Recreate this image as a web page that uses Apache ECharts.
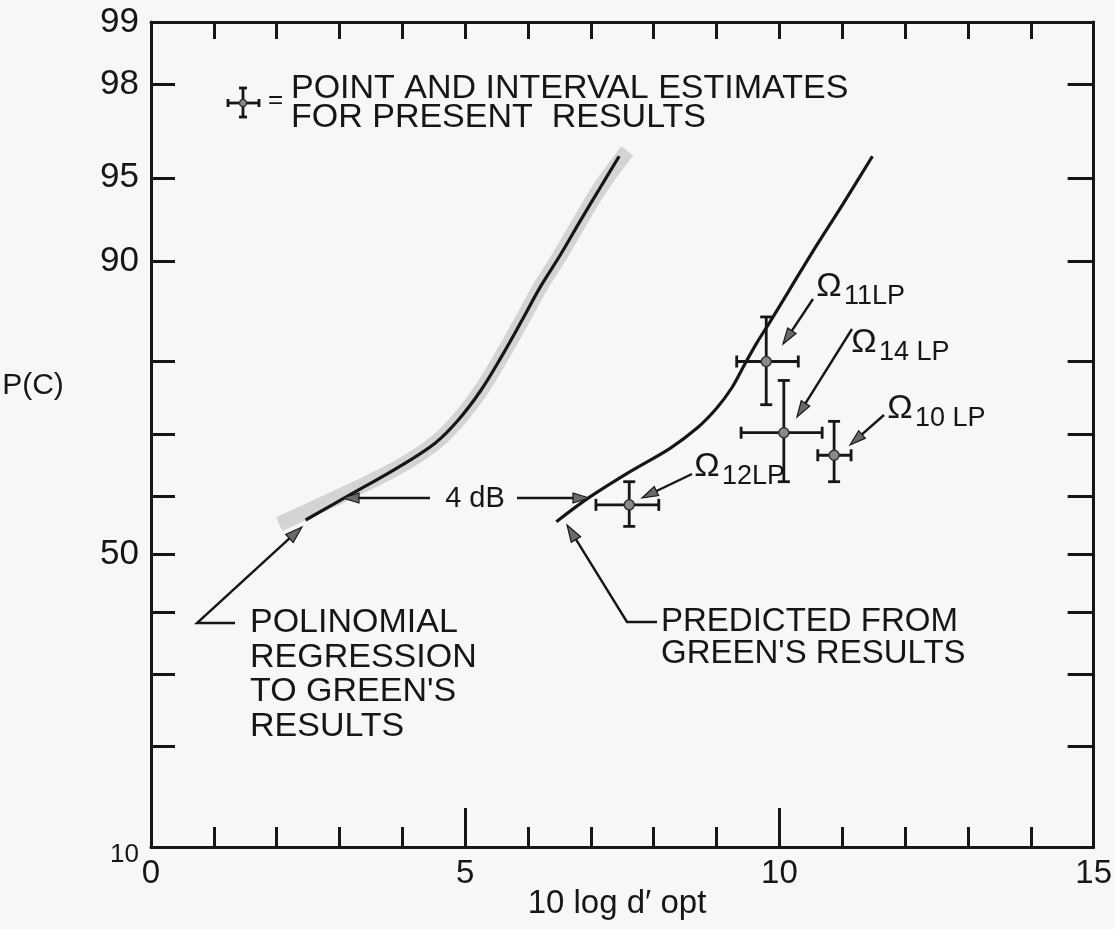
<!DOCTYPE html>
<html>
<head>
<meta charset="utf-8">
<script src="https://cdn.jsdelivr.net/npm/echarts@6/dist/echarts.min.js"></script>
<style>
  html, body { margin: 0; padding: 0; background: #f7f7f5; }
  #chart { width: 1115px; height: 929px; }
</style>
</head>
<body>
<div id="chart"></div>
<script>
// ---- Axis ticks -------------------------------------------------------
const xTicks = [0, 1, 2, 3, 4, 5, 6, 7, 8, 9, 10, 11, 12, 13, 14, 15];
const xLabels = [0, 5, 10, 15];
const pTicks = [10, 20, 30, 40, 50, 60, 70, 80, 90, 95, 98, 99];
const pLabels = [10, 50, 90, 95, 98, 99];

// ---- Polynomial regression to Green's results (10 log d'opt, P(C) %) ----
const regX = [2.46, 3.10, 3.94, 4.52, 4.89, 5.25, 5.57, 5.89, 6.20, 6.52, 6.84, 7.14, 7.45];
const regP = [55.9, 59.8, 64.8, 68.6, 72.1, 76.3, 80.5, 84.5, 87.9, 90.5, 92.8, 94.5, 95.9];

// Shaded band around the regression curve
const bandX = [2.04, 3.15, 3.94, 4.52, 4.89, 5.25, 5.57, 5.89, 6.20, 6.52, 6.84, 7.14, 7.58];
const bandP = [55.2, 60.7, 64.8, 68.6, 72.1, 76.3, 80.5, 84.5, 87.9, 90.5, 92.8, 94.5, 96.1];

// ---- Predicted from Green's results ------------------------------------
const predX = [6.45, 6.95, 7.63, 8.26, 8.69, 9.00, 9.24, 9.45, 9.64, 9.85, 10.16, 10.53, 11.01, 11.48];
const predP = [55.6, 59.6, 64.1, 67.8, 70.9, 73.8, 76.6, 79.7, 82.2, 84.5, 87.6, 90.7, 93.7, 95.9];

// ---- Present results: point and interval estimates ---------------------
const condNames = ['11LP', '14 LP', '10 LP', '12LP'];
const condX   = [9.79, 10.07, 10.87, 7.61];
const condXLo = [9.32, 9.39, 10.61, 7.08];
const condXHi = [10.30, 10.68, 11.14, 8.08];
const condP   = [80.0, 70.2, 66.7, 58.5];
const condPLo = [74.3, 62.4, 62.4, 54.8];
const condPHi = [85.0, 77.6, 71.9, 62.4];

// Inverse of the standard normal CDF (Acklam's rational approximation)
function probit(p) {
  const a = [-39.69683028665376, 220.9460984245205, -275.9285104469687, 138.3577518672690, -30.66479806614716, 2.506628277459239];
  const b = [-54.47609879822406, 161.5858368580409, -155.6989798598866, 66.80131188771972, -13.28068155288572];
  const c = [-0.007784894002430293, -0.3223964580411365, -2.400758277161838, -2.549732539343734, 4.374664141464968, 2.938163982698783];
  const d = [0.007784695709041462, 0.3224671290700398, 2.445134137142996, 3.754408661907416];
  const pl = 0.02425;
  let q, r;
  if (p < pl) {
    q = Math.sqrt(-2 * Math.log(p));
    return (((((c[0]*q+c[1])*q+c[2])*q+c[3])*q+c[4])*q+c[5]) / ((((d[0]*q+d[1])*q+d[2])*q+d[3])*q+1);
  } else if (p <= 1 - pl) {
    q = p - 0.5; r = q * q;
    return (((((a[0]*r+a[1])*r+a[2])*r+a[3])*r+a[4])*r+a[5])*q / (((((b[0]*r+b[1])*r+b[2])*r+b[3])*r+b[4])*r+1);
  } else {
    q = Math.sqrt(-2 * Math.log(1 - p));
    return -(((((c[0]*q+c[1])*q+c[2])*q+c[3])*q+c[4])*q+c[5]) / ((((d[0]*q+d[1])*q+d[2])*q+d[3])*q+1);
  }
}
const z = p => probit(p / 100);

const INK = '#161616';
const FONT = '"Liberation Sans", Arial, sans-serif';

const zTicks = pTicks.map(z);
const zLabels = pLabels.map(z);
const labelFor = v => {
  const i = zLabels.findIndex(t => Math.abs(t - v) < 1e-6);
  if (i < 0) return '';
  return pLabels[i] === 10 ? '{s|10}' : String(pLabels[i]);
};

const regData = regX.map((x, i) => [x, z(regP[i])]);
const bandData = bandX.map((x, i) => [x, z(bandP[i])]);
const predData = predX.map((x, i) => [x, z(predP[i])]);
const condData = condX.map((x, i) => [x, condXLo[i], condXHi[i], z(condP[i]), z(condPLo[i]), z(condPHi[i])]);

const chart = echarts.init(document.getElementById('chart'), null, { renderer: 'canvas' });

const yBase = {
  type: 'value',
  min: z(10),
  max: z(99),
  splitLine: { show: false },
  axisLine: { show: true, onZero: false, lineStyle: { color: INK, width: 3 } },
  axisTick: { show: true, inside: true, customValues: zTicks, lineStyle: { color: INK, width: 3 } }
};

const xBase = {
  type: 'value',
  min: 0,
  max: 15,
  interval: 1,
  splitLine: { show: false },
  axisLine: { show: true, onZero: false, lineStyle: { color: INK, width: 3 } },
  axisTick: { show: true, inside: true, lineStyle: { color: INK, width: 3 } }
};

// Cross-shaped point and interval estimate
function crossShapes(cx, cy, l, r, lo, hi, cap, rad) {
  const ls = { stroke: INK, lineWidth: 2.8 };
  return [
    { type: 'line', shape: { x1: l, y1: cy, x2: r, y2: cy }, style: ls },
    { type: 'line', shape: { x1: cx, y1: hi, x2: cx, y2: lo }, style: ls },
    { type: 'line', shape: { x1: l, y1: cy - cap, x2: l, y2: cy + cap }, style: ls },
    { type: 'line', shape: { x1: r, y1: cy - cap, x2: r, y2: cy + cap }, style: ls },
    { type: 'line', shape: { x1: cx - cap, y1: hi, x2: cx + cap, y2: hi }, style: ls },
    { type: 'line', shape: { x1: cx - cap, y1: lo, x2: cx + cap, y2: lo }, style: ls },
    { type: 'circle', shape: { cx: cx, cy: cy, r: rad }, style: { fill: '#8a8a8a', stroke: '#333', lineWidth: 1.5 } }
  ];
}

chart.setOption({
  animation: false,
  backgroundColor: '#f7f7f5',
  grid: { left: 151, right: 16, top: 22, bottom: 82, containLabel: false },
  xAxis: [
    Object.assign({}, xBase, {
      position: 'bottom',
      axisTick: { show: true, inside: true, length: 20, lineStyle: { color: INK, width: 3 } },
      axisLabel: {
        show: true, margin: 10, color: INK, fontFamily: FONT, fontSize: 33,
        formatter: v => (xLabels.indexOf(v) >= 0 ? String(v) : '')
      }
    }),
    // longer ticks at 5 and 10 on the bottom edge
    Object.assign({}, xBase, {
      position: 'bottom', interval: 5,
      axisLine: { show: false, onZero: false },
      axisTick: { show: true, inside: true, length: 39, lineStyle: { color: INK, width: 3 } },
      axisLabel: { show: false }
    }),
    Object.assign({}, xBase, {
      position: 'top',
      axisTick: { show: true, inside: true, length: 17, lineStyle: { color: INK, width: 3 } },
      axisLabel: { show: false }
    })
  ],
  yAxis: [
    Object.assign({}, yBase, {
      position: 'left',
      axisTick: Object.assign({}, yBase.axisTick, { length: 24 }),
      axisLabel: {
        show: true, customValues: zLabels, margin: 12, color: INK, fontFamily: FONT, fontSize: 35,
        formatter: labelFor,
        rich: { s: { fontFamily: FONT, fontSize: 26, color: INK, padding: [16, 0, 0, 0] } }
      }
    }),
    Object.assign({}, yBase, {
      position: 'right',
      axisTick: Object.assign({}, yBase.axisTick, { length: 26 }),
      axisLabel: { show: false }
    })
  ],
  series: [
    {
      name: 'band', type: 'line', data: bandData, xAxisIndex: 0, yAxisIndex: 0,
      smooth: 0.35, symbol: 'none', silent: true, z: 1,
      lineStyle: { color: 'rgba(160,160,160,0.4)', width: 15, cap: 'butt' }
    },
    {
      name: 'Polinomial regression', type: 'line', data: regData, xAxisIndex: 0, yAxisIndex: 0,
      smooth: 0.35, symbol: 'none', z: 3,
      lineStyle: { color: INK, width: 3.2 }
    },
    {
      name: 'Predicted', type: 'line', data: predData, xAxisIndex: 0, yAxisIndex: 0,
      smooth: 0.35, symbol: 'none', z: 3,
      lineStyle: { color: INK, width: 3.2 }
    },
    {
      name: 'Present results', type: 'custom', xAxisIndex: 0, yAxisIndex: 0, z: 4,
      data: condData,
      renderItem: function (params, api) {
        const c = api.coord([api.value(0), api.value(3)]);
        const l = api.coord([api.value(1), api.value(3)])[0];
        const r = api.coord([api.value(2), api.value(3)])[0];
        const lo = api.coord([api.value(0), api.value(4)])[1];
        const hi = api.coord([api.value(0), api.value(5)])[1];
        return { type: 'group', children: crossShapes(c[0], c[1], l, r, lo, hi, 6, 5) };
      }
    }
  ]
});

// ---- Annotations -------------------------------------------------------
function txt(x, y, s, size, align, extra) {
  return {
    type: 'text', x: x, y: y, z: 10,
    style: Object.assign({ text: s, fill: INK, font: size + 'px ' + FONT, align: align || 'left', verticalAlign: 'middle' }, extra || {})
  };
}
function arrow(pts, headLen, headHalf) {
  const n = pts.length;
  const [x1, y1] = pts[n - 2], [x2, y2] = pts[n - 1];
  const ang = Math.atan2(y2 - y1, x2 - x1);
  const bx = x2 - headLen * Math.cos(ang), by = y2 - headLen * Math.sin(ang);
  const nx = -Math.sin(ang) * headHalf, ny = Math.cos(ang) * headHalf;
  const mid = [x2 - headLen * 0.5 * Math.cos(ang), y2 - headLen * 0.5 * Math.sin(ang)];
  return [
    { type: 'polyline', z: 9, shape: { points: pts.slice(0, n - 1).concat([mid]) }, style: { stroke: INK, lineWidth: 2.4, fill: null } },
    { type: 'polygon', z: 9, shape: { points: [[x2, y2], [bx + nx, by + ny], [bx - nx, by - ny]] }, style: { fill: '#6a6a6a', stroke: INK, lineWidth: 1.2 } }
  ];
}

const g = [];
// legend symbol and text
crossShapes(243, 103, 228, 259, 117, 88, 4, 3.5).forEach(s => { s.z = 10; g.push(s); });
g.push(txt(268, 101, '=', 26, 'left'));
g.push(txt(291, 89, 'POINT AND INTERVAL ESTIMATES', 34));
g.push(txt(291, 118, 'FOR PRESENT  RESULTS', 34));

// axis titles
g.push(txt(33, 386, 'P(C)', 30, 'center'));
g.push(txt(617, 904, '10 log d\u2032 opt', 33, 'center'));

// 4 dB separation
g.push(txt(475, 499, '4 dB', 29, 'center'));
arrow([[430, 498], [343, 498]], 16, 5).forEach(s => g.push(s));
arrow([[517, 498], [589, 498]], 16, 5).forEach(s => g.push(s));

// curve call-outs
arrow([[235, 623], [197, 623], [302, 527]], 17, 5.5).forEach(s => g.push(s));
['POLINOMIAL', 'REGRESSION', "TO GREEN'S", 'RESULTS'].forEach((s, i) => g.push(txt(250, 623 + i * 34.5, s, 34)));
arrow([[657, 622], [627, 622], [567, 525]], 17, 5.5).forEach(s => g.push(s));
g.push(txt(661, 622, 'PREDICTED FROM', 33));
g.push(txt(661, 654, "GREEN'S RESULTS", 33));

// condition labels (\u03A9 with subscript) and their pointers
const condLabelPos = [[829, 287], [864, 343], [900, 409], [707, 467]];
const condArrows = [
  [[813, 299], [783, 344]],
  [[852, 329], [797, 417]],
  [[884, 415], [850, 445]],
  [[692, 474], [642, 498]]
];
condNames.forEach((name, i) => {
  const [lx, ly] = condLabelPos[i];
  g.push(txt(lx, ly, '\u03A9', 34, 'center'));
  g.push(txt(lx + 15, ly + 10, name, 27, 'left'));
  arrow(condArrows[i], 16, 5).forEach(s => g.push(s));
});

chart.setOption({ graphic: { elements: g } });
</script>
</body>
</html>
